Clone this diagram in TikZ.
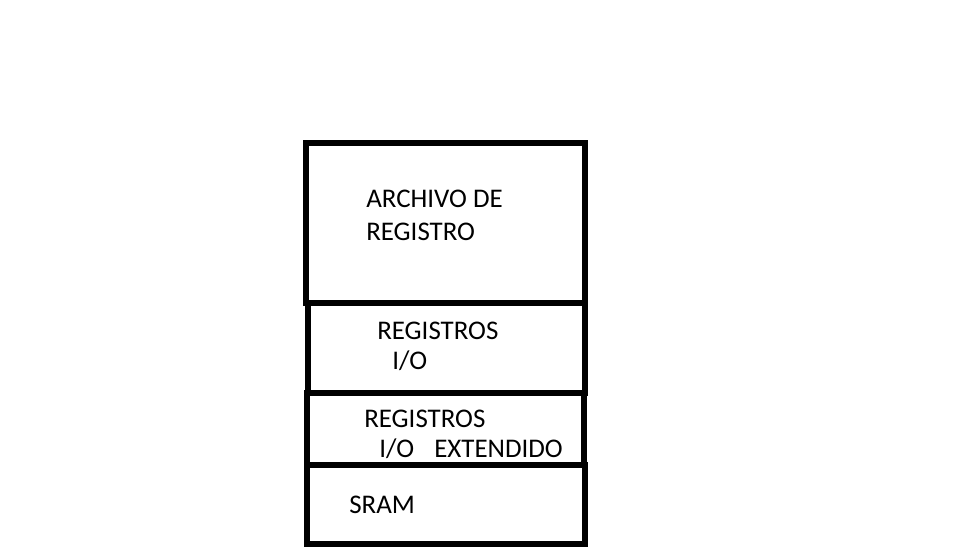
\documentclass[tikz,border=0pt]{standalone}
\usepackage{fontspec}
\setmainfont{Carlito}
\begin{document}
\begin{tikzpicture}[x=0.75pt,y=-0.75pt,
  thick box/.style={draw=black,line width=5pt},
  thin box/.style={draw=black,line width=4pt},
  lbl/.style={anchor=base west,inner sep=0pt,font=\fontsize{20.2}{24}\selectfont}]
\useasboundingbox[fill=white] (0,0) rectangle (977,558);
\draw[thin box] (307,465) rectangle (585,544);
\draw[thin box] (307,393) rectangle (584,465);
\draw[thin box] (308,303) rectangle (585,393);
\draw[thick box] (306,143) rectangle (585,303);
\node[lbl] (a1) at (366,207) {ARCHIVO DE};
\node[lbl] (a2) at (366,240) {REGISTRO};
\node[lbl] (b1) at (377,339) {REGISTROS};
\node[lbl] (b2) at (392,369) {I/O};
\node[lbl] (c1) at (364,427) {REGISTROS};
\node[lbl] (c2) at (379,457) {I/O};
\node[lbl] (c3) at (434,457) {EXTENDIDO};
\node[lbl] (d1) at (349,513) {SRAM};
\end{tikzpicture}
\end{document}
